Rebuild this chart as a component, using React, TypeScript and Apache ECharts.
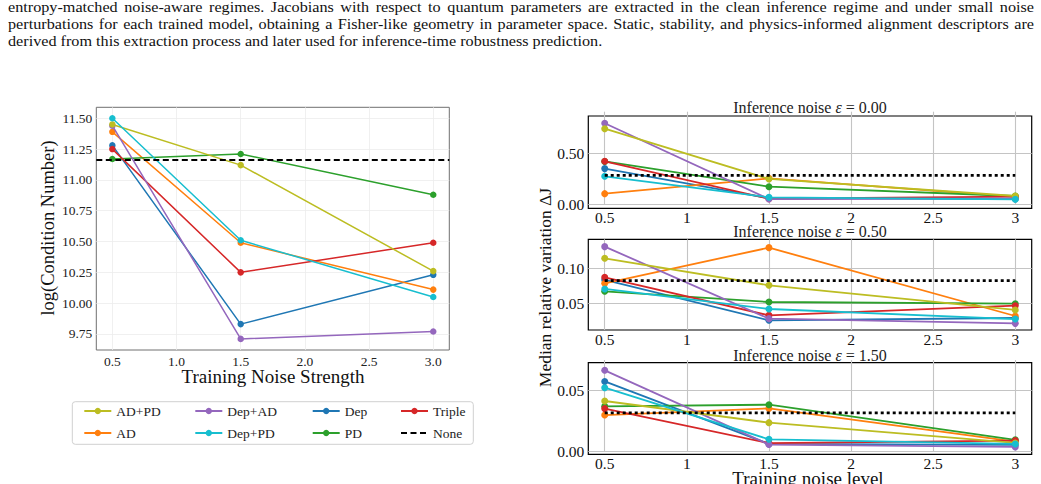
import React, { useEffect, useRef } from "react";
import * as echarts from "echarts";

const FONT = '"Liberation Serif", "Times New Roman", serif';

// Training noise strengths shared by every panel
const trainingNoise = [0.5, 1.5, 3.0];

// Method names in plotting order, with their colours
const methods = ["Dep", "AD", "PD", "Triple", "Dep+AD", "AD+PD", "Dep+PD"];
const methodColors = ["#1f77b4", "#ff7f0e", "#2ca02c", "#d62728", "#9467bd", "#bcbd22", "#17becf"];

// Legend columns (column-major layout)
const legendColumns = [
  ["AD+PD", "AD"],
  ["Dep+AD", "Dep+PD"],
  ["Dep", "PD"],
  ["Triple", "None"],
];

// log(condition number) per method, rows follow `methods`
const logCondition = [
  [11.28, 9.83, 10.23], // Dep
  [11.39, 10.49, 10.11], // AD
  [11.17, 11.21, 10.88], // PD
  [11.25, 10.25, 10.49], // Triple
  [11.44, 9.71, 9.77], // Dep+AD
  [11.45, 11.12, 10.26], // AD+PD
  [11.5, 10.51, 10.05], // Dep+PD
];
const logConditionNone = 11.16;

// Inference noise levels of the three right-hand panels
const inferenceNoise = [0.0, 0.5, 1.5];

// Median relative variation ΔJ, rows follow `methods`
const deltaJEps000 = [
  [0.349, 0.056, 0.05],
  [0.102, 0.253, 0.07],
  [0.42, 0.171, 0.079],
  [0.421, 0.052, 0.072],
  [0.796, 0.049, 0.055],
  [0.743, 0.247, 0.079],
  [0.273, 0.066, 0.046],
];
const deltaJEps050 = [
  [0.084, 0.0262, 0.0295],
  [0.079, 0.13, 0.0324],
  [0.0676, 0.0524, 0.05],
  [0.0876, 0.0333, 0.0471],
  [0.1314, 0.0286, 0.0219],
  [0.1148, 0.0762, 0.041],
  [0.071, 0.0424, 0.028],
];
const deltaJEps150 = [
  [0.057, 0.0062, 0.0054],
  [0.0297, 0.0351, 0.0081],
  [0.0368, 0.0381, 0.0095],
  [0.0349, 0.0068, 0.0089],
  [0.066, 0.0057, 0.0038],
  [0.0411, 0.0235, 0.007],
  [0.0519, 0.01, 0.0062],
];
const deltaJNone = [0.283, 0.0829, 0.0314];

// Tick values
const leftXTicks = [0.5, 1.0, 1.5, 2.0, 2.5, 3.0];
const leftYTicks = [9.75, 10.0, 10.25, 10.5, 10.75, 11.0, 11.25, 11.5];
const rightXTicks = [0.5, 1, 1.5, 2, 2.5, 3];
const rightYTicks = [
  [0.0, 0.5],
  [0.05, 0.1],
  [0.0, 0.05],
];

const paragraphLines = [
  "entropy-matched noise-aware regimes. Jacobians with respect to quantum parameters are extracted in the clean inference regime and under small noise",
  "perturbations for each trained model, obtaining a Fisher-like geometry in parameter space. Static, stability, and physics-informed alignment descriptors are",
  "derived from this extraction process and later used for inference-time robustness prediction.",
];

export default function App() {
  const ref = useRef<HTMLDivElement>(null);

  useEffect(() => {
    if (!ref.current) return;
    const chart = echarts.init(ref.current, undefined, { renderer: "svg" });

    // Layout of the four plotting areas
    const leftGrid = { left: 96.3, top: 107.3, width: 353, height: 242.7 };
    const rightGrids = [
      { left: 588.3, top: 116, width: 443.4, height: 92.3 },
      { left: 588.3, top: 239.3, width: 443.4, height: 90.7 },
      { left: 588.3, top: 362.7, width: 443.4, height: 91.6 },
    ];
    const rightYRanges = [
      [-0.0424, 0.868],
      [0.0124, 0.1419],
      [-0.0022, 0.0722],
    ];
    const panels = [deltaJEps000, deltaJEps050, deltaJEps150];

    const grid: any[] = [
      { ...leftGrid, show: true, borderColor: "#707070", borderWidth: 1, containLabel: false },
      ...rightGrids.map((g) => ({ ...g, show: true, borderColor: "#000", borderWidth: 1.2, containLabel: false })),
    ];

    const xAxis: any[] = [
      {
        type: "value",
        gridIndex: 0,
        min: 0.375,
        max: 3.125,
        axisLine: { show: false },
        splitLine: { show: false },
        axisTick: {
          show: true,
          inside: true,
          length: leftGrid.height,
          customValues: leftXTicks,
          lineStyle: { color: "#ececec", width: 0.8 },
        },
        axisLabel: {
          customValues: leftXTicks,
          formatter: (v: number) => v.toFixed(1),
          margin: 4,
          fontFamily: FONT,
          fontSize: 13.5,
          color: "#222",
        },
      },
      ...rightGrids.map((g, i) => ({
        type: "value",
        gridIndex: i + 1,
        min: 0.4,
        max: 3.1,
        axisLine: { show: false },
        splitLine: { show: false },
        axisTick: {
          show: true,
          inside: true,
          length: g.height,
          customValues: rightXTicks,
          lineStyle: { color: "#c4c4c4", width: 1.1 },
        },
        axisLabel: {
          customValues: rightXTicks,
          formatter: (v: number) => String(v),
          margin: 3,
          lineHeight: 13,
          fontFamily: FONT,
          fontSize: 15.5,
          color: "#111",
        },
      })),
    ];

    const yAxis: any[] = [
      {
        type: "value",
        gridIndex: 0,
        min: 9.62,
        max: 11.589,
        axisLine: { show: false },
        splitLine: { show: false },
        axisTick: {
          show: true,
          inside: true,
          length: leftGrid.width,
          customValues: leftYTicks,
          lineStyle: { color: "#ececec", width: 0.8 },
        },
        axisLabel: {
          customValues: leftYTicks,
          formatter: (v: number) => v.toFixed(2),
          margin: 4,
          fontFamily: FONT,
          fontSize: 13.5,
          color: "#222",
        },
      },
      ...rightGrids.map((g, i) => ({
        type: "value",
        gridIndex: i + 1,
        min: rightYRanges[i][0],
        max: rightYRanges[i][1],
        axisLine: { show: false },
        splitLine: { show: false },
        axisTick: {
          show: true,
          inside: true,
          length: g.width,
          customValues: rightYTicks[i],
          lineStyle: { color: "#c4c4c4", width: 1.1 },
        },
        axisLabel: {
          customValues: rightYTicks[i],
          formatter: (v: number) => v.toFixed(2),
          margin: 4,
          fontFamily: FONT,
          fontSize: 15.5,
          color: "#111",
        },
      })),
    ];

    const series: any[] = [];

    // Left panel: condition number vs training noise
    methods.forEach((name, m) => {
      series.push({
        type: "line",
        name,
        xAxisIndex: 0,
        yAxisIndex: 0,
        data: trainingNoise.map((x, k) => [x, logCondition[m][k]]),
        symbol: "circle",
        symbolSize: 6.5,
        lineStyle: { color: methodColors[m], width: 1.5 },
        itemStyle: { color: methodColors[m] },
        z: 3 + m * 0.01,
      });
    });
    series.push({
      type: "line",
      name: "None",
      xAxisIndex: 0,
      yAxisIndex: 0,
      data: [],
      symbol: "none",
      lineStyle: { color: "#000", width: 1.8, type: [6, 3.5] },
      itemStyle: { color: "#000" },
      markLine: {
        silent: true,
        symbol: ["none", "none"],
        label: { show: false },
        lineStyle: { color: "#000", width: 1.8, type: [6, 3.5] },
        data: [{ yAxis: logConditionNone }],
      },
      z: 4,
    });

    // Right panels: ΔJ vs training noise, one panel per inference noise
    panels.forEach((rows, p) => {
      const gi = p + 1;
      methods.forEach((name, m) => {
        series.push({
          type: "line",
          name,
          xAxisIndex: gi,
          yAxisIndex: gi,
          data: trainingNoise.map((x, k) => [x, rows[m][k]]),
          symbol: "circle",
          symbolSize: 7,
          lineStyle: { color: methodColors[m], width: 1.8 },
          itemStyle: { color: methodColors[m] },
          z: 3 + m * 0.01,
        });
      });
      series.push({
        type: "line",
        name: "None",
        xAxisIndex: gi,
        yAxisIndex: gi,
        data: [trainingNoise[0], trainingNoise[trainingNoise.length - 1]].map((x) => [x, deltaJNone[p]]),
        symbol: "none",
        lineStyle: { color: "#000", width: 2.8, type: [3, 3] },
        itemStyle: { color: "#000" },
        z: 4,
      });
    });

    const legendX = [78.3, 189.3, 306.7, 395];
    const legend = legendColumns.map((col, i) => ({
      data: col.map((name) => (name === "None" ? { name, itemStyle: { opacity: 0 } } : name)),
      orient: "vertical",
      left: legendX[i],
      top: 399,
      itemWidth: 27,
      itemHeight: 8,
      itemGap: 8,
      selectedMode: false,
      textStyle: { fontFamily: FONT, fontSize: 13.5, color: "#222" },
    }));

    const titleText = (eps: number) => ({
      text: `Inference noise {e|ε} = ${eps.toFixed(2)}`,
      fontFamily: FONT,
      fontSize: 16,
      fill: "#222",
      align: "center",
      verticalAlign: "middle",
      rich: {
        e: { fontFamily: FONT, fontSize: 16, fontStyle: "italic", fill: "#222" },
      },
    });
    const titleY = [107.5, 231, 355];

    const graphic: any[] = [
      // legend frame
      {
        type: "rect",
        shape: { x: 72.3, y: 401.7, width: 401, height: 42.6, r: 3 },
        style: { fill: "#fff", stroke: "#d0d0d0", lineWidth: 1 },
        z: -1,
      },
      {
        type: "text",
        x: 48.3,
        y: 228,
        rotation: Math.PI / 2,
        style: { text: "log(Condition Number)", fontFamily: FONT, fontSize: 18.5, fill: "#111", align: "center", verticalAlign: "middle" },
      },
      {
        type: "text",
        x: 273,
        y: 376.5,
        style: { text: "Training Noise Strength", fontFamily: FONT, fontSize: 19, fill: "#111", align: "center", verticalAlign: "middle" },
      },
      {
        type: "text",
        x: 545,
        y: 287.5,
        rotation: Math.PI / 2,
        style: { text: "Median relative variation ΔJ", fontFamily: FONT, fontSize: 17.5, fill: "#111", align: "center", verticalAlign: "middle" },
      },
      {
        type: "text",
        x: 808,
        y: 478,
        style: { text: "Training noise level", fontFamily: FONT, fontSize: 19, fill: "#111", align: "center", verticalAlign: "middle" },
      },
      ...inferenceNoise.map((eps, i) => ({
        type: "text",
        x: rightGrids[i].left + rightGrids[i].width / 2,
        y: titleY[i],
        style: titleText(eps),
      })),
    ];

    chart.setOption({
      animation: false,
      backgroundColor: "#fff",
      grid,
      xAxis,
      yAxis,
      legend,
      series,
      graphic,
    });

    return () => chart.dispose();
  }, []);

  return (
    <div style={{ position: "absolute", left: 0, top: 0, width: 1041, height: 484, background: "#fff", overflow: "hidden" }}>
      <div ref={ref} style={{ position: "absolute", left: 0, top: 0, width: 1041, height: 484 }} />
      <div
        style={{
          position: "absolute",
          left: 8,
          top: -0.8,
          width: 1026,
          fontFamily: FONT,
          fontSize: 16.2,
          lineHeight: "19px",
          color: "#111",
          transform: "scaleY(0.9)",
          transformOrigin: "0 0",
        }}
      >
        {paragraphLines.map((line, i) => (
          <div
            key={i}
            style={{
              textAlign: i < paragraphLines.length - 1 ? "justify" : "left",
              textAlignLast: i < paragraphLines.length - 1 ? "justify" : "left",
              whiteSpace: "nowrap",
            } as React.CSSProperties}
          >
            {line}
          </div>
        ))}
      </div>
    </div>
  );
}
